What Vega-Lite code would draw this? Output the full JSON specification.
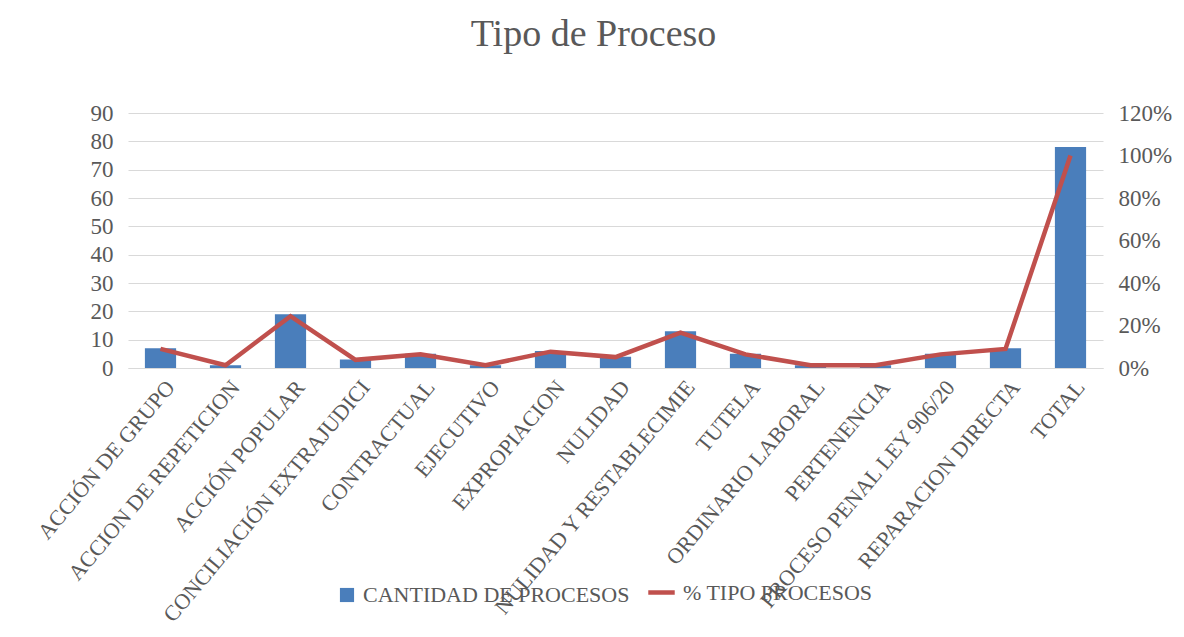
{
  "$schema": "https://vega.github.io/schema/vega-lite/v6.json",
  "autosize": {"type": "none"},
  "padding": {"left": 128, "top": 113, "right": 81, "bottom": 269},
  "width": 975,
  "height": 255,
  "background": "white",
  "title": {
    "text": "Tipo de Proceso",
    "font": "Liberation Serif",
    "fontSize": 38,
    "fontWeight": "normal",
    "color": "#595959",
    "anchor": "middle",
    "dx": -22,
    "offset": 48
  },
  "config": {
    "view": {"stroke": null},
    "axis": {
      "labelFont": "Liberation Serif",
      "labelColor": "#595959",
      "domain": false,
      "ticks": false,
      "gridColor": "#d9d9d9",
      "gridWidth": 1.2
    },
    "legend": {
      "labelFont": "Liberation Serif",
      "labelFontSize": 22,
      "labelColor": "#595959",
      "labelLimit": 400
    }
  },
  "data": {
    "values": [
      {"tipo": "ACCIÓN DE GRUPO", "cantidad": 7, "pct": 0.0897},
      {"tipo": "ACCION DE REPETICION", "cantidad": 1, "pct": 0.0128},
      {"tipo": "ACCIÓN POPULAR", "cantidad": 19, "pct": 0.2436},
      {"tipo": "CONCILIACIÓN EXTRAJUDICI", "cantidad": 3, "pct": 0.0385},
      {"tipo": "CONTRACTUAL", "cantidad": 5, "pct": 0.0641},
      {"tipo": "EJECUTIVO", "cantidad": 1, "pct": 0.0128},
      {"tipo": "EXPROPIACION", "cantidad": 6, "pct": 0.0769},
      {"tipo": "NULIDAD", "cantidad": 4, "pct": 0.0513},
      {"tipo": "NULIDAD Y RESTABLECIMIE", "cantidad": 13, "pct": 0.1667},
      {"tipo": "TUTELA", "cantidad": 5, "pct": 0.0641},
      {"tipo": "ORDINARIO LABORAL", "cantidad": 1, "pct": 0.0128},
      {"tipo": "PERTENENCIA", "cantidad": 1, "pct": 0.0128},
      {"tipo": "PROCESO PENAL LEY 906/20", "cantidad": 5, "pct": 0.0641},
      {"tipo": "REPARACION DIRECTA", "cantidad": 7, "pct": 0.0897},
      {"tipo": "TOTAL", "cantidad": 78, "pct": 1.0}
    ]
  },
  "encoding": {
    "x": {
      "field": "tipo",
      "type": "nominal",
      "sort": null,
      "title": null,
      "scale": {"paddingInner": 0.52, "paddingOuter": 0.26},
      "axis": {
        "labelAngle": -50,
        "labelFontSize": 22,
        "labelPadding": 15,
        "labelOffset": 10,
        "labelLimit": 500,
        "domain": true,
        "domainColor": "#d9d9d9",
        "domainWidth": 1.2,
        "grid": false
      }
    }
  },
  "layer": [
    {
      "mark": {"type": "bar"},
      "encoding": {
        "y": {
          "field": "cantidad",
          "type": "quantitative",
          "title": null,
          "scale": {"domain": [0, 90], "nice": false},
          "axis": {
            "values": [0, 10, 20, 30, 40, 50, 60, 70, 80, 90],
            "labelFontSize": 23,
            "labelPadding": 15,
            "grid": true
          }
        },
        "fill": {
          "datum": "CANTIDAD DE PROCESOS",
          "scale": {"range": ["#4A7EBB"]},
          "legend": {
            "orient": "none",
            "legendX": 208,
            "legendY": 471,
            "title": null,
            "symbolType": "square",
            "symbolSize": 200,
            "symbolStrokeWidth": 0,
            "labelOffset": 5
          }
        }
      }
    },
    {
      "mark": {"type": "line", "strokeWidth": 4.5},
      "encoding": {
        "y": {
          "field": "pct",
          "type": "quantitative",
          "title": null,
          "scale": {"domain": [0, 1.2], "nice": false},
          "axis": {
            "orient": "right",
            "values": [0, 0.2, 0.4, 0.6, 0.8, 1.0, 1.2],
            "format": ".0%",
            "labelFontSize": 23,
            "labelPadding": 15,
            "grid": false
          }
        },
        "stroke": {
          "datum": "% TIPO PROCESOS",
          "scale": {"range": ["#C0504D"]},
          "legend": {
            "orient": "none",
            "legendX": 518,
            "legendY": 464,
            "title": null,
            "symbolType": "stroke",
            "symbolSize": 700,
            "symbolStrokeWidth": 4.5,
            "labelOffset": 6
          }
        }
      }
    }
  ],
  "resolve": {"scale": {"y": "independent"}}
}
